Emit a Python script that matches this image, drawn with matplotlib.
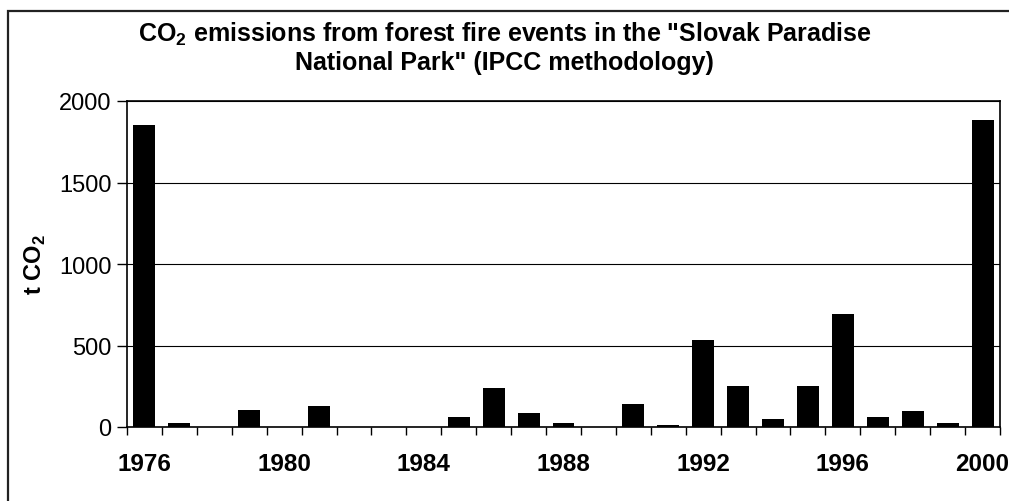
import matplotlib
matplotlib.use("Agg")
from matplotlib import pyplot as plt
from matplotlib.patches import Rectangle

years = list(range(1976, 2001))
emissions = [1855, 25, 0, 106, 0, 131, 0, 0, 0, 60, 237, 85, 25, 0, 144, 15,
             535, 250, 52, 250, 695, 62, 98, 25, 1885]
y_ticks = [0, 500, 1000, 1500, 2000]
label_years = [1976, 1980, 1984, 1988, 1992, 1996, 2000]

plt.rcParams['font.family'] = ['Liberation Sans', 'DejaVu Sans']

fig = plt.figure(figsize=(10.09, 5.02), dpi=100)
ax = fig.add_axes([127 / 1009, 74 / 502, 873 / 1009, 326 / 502])

# outer chart frame (cropped on the right and bottom)
fig.patches.append(Rectangle((8 / 1009, -0.1), 1.2, 1.1 - 12 / 502,
                             transform=fig.transFigure, fill=False,
                             edgecolor='#222222', linewidth=1.6))

pos = list(range(len(years)))
ax.bar(pos, emissions, width=0.63, color='black', zorder=3)

ax.set_xlim(-0.5, len(years) - 0.5)
ax.set_ylim(0, 2000)
ax.set_yticks(y_ticks)
ax.set_yticklabels([str(v) for v in y_ticks], fontsize=17)
ax.yaxis.grid(True, color='black', linewidth=0.8, zorder=0)
ax.tick_params(axis='y', direction='out', length=7, width=1, pad=4)

ax.set_xticks([years.index(y) for y in label_years])
ax.set_xticklabels([str(y) for y in label_years], fontsize=17.5, fontweight='bold')
ax.set_xticks([p - 0.5 for p in pos] + [len(years) - 0.5], minor=True)
ax.tick_params(axis='x', which='major', length=0, pad=18)
ax.tick_params(axis='x', which='minor', direction='out', length=6, width=1)

for s in ax.spines.values():
    s.set_linewidth(1.2)
    s.set_color('black')

ax.set_ylabel('t CO$_\\mathregular{2}$', fontsize=17, fontweight='bold', labelpad=8)

fig.text(0.5, 1 - 48 / 502,
         'CO$_\\mathregular{2}$ emissions from forest fire events in the "Slovak Paradise\n'
         'National Park" (IPCC methodology)',
         ha='center', va='center', fontsize=18, fontweight='bold', linespacing=1.15)

fig.savefig('out.png', dpi=100)
